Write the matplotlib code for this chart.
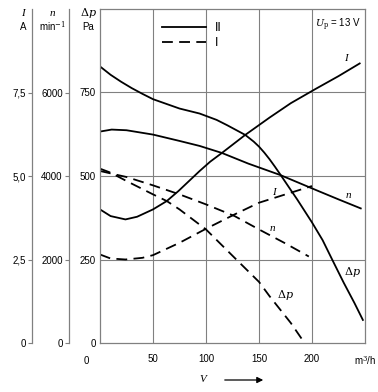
import matplotlib
matplotlib.use("Agg")
import matplotlib.pyplot as plt
from matplotlib.lines import Line2D
import numpy as np

plt.rcParams['font.family'] = ['Liberation Sans', 'DejaVu Sans']
plt.rcParams['font.size'] = 7
plt.rcParams['mathtext.fontset'] = 'dejavuserif'

# curve data (V in m3/h)
# Variante II (solid)
v_dp2 = [0, 10, 20, 30, 40, 50, 75, 94, 110, 120, 137, 145, 150, 155, 160, 165, 170, 180, 186, 200, 210, 219, 230, 240, 248]
dp2 = [828, 803, 782, 763, 746, 730, 702, 687, 668, 652, 623, 603, 588, 570, 550, 528, 505, 458, 430, 361, 308, 250, 180, 120, 69]  # Pa
v_n2 = [0, 11, 25, 50, 75, 94, 115, 140, 170, 206, 225, 246]
n2 = [5064, 5112, 5096, 4992, 4840, 4720, 4552, 4296, 4024, 3640, 3440, 3224]  # min^-1
v_i2 = [0, 10, 24, 35, 50, 63, 74, 85, 94, 104, 115, 137, 160, 180, 203, 225, 245]
i2 = [4.00, 3.80, 3.70, 3.78, 4.00, 4.25, 4.55, 4.88, 5.15, 5.43, 5.69, 6.23, 6.75, 7.18, 7.60, 7.99, 8.37]  # A

# Variante I (dashed)
v_dp1 = [0, 10, 25, 50, 63, 75, 100, 127, 150, 160, 170, 180, 193]
dp1 = [522, 510, 485, 445, 425, 400, 340, 255, 183, 140, 100, 60, 0]
v_n1 = [0, 25, 50, 75, 100, 127, 150, 175, 197]
n1 = [4120, 3976, 3776, 3560, 3320, 3040, 2720, 2384, 2072]
v_i1 = [0, 10, 24, 40, 50, 75, 100, 127, 150, 175, 200]
i1 = [2.65, 2.53, 2.50, 2.55, 2.63, 3.00, 3.42, 3.85, 4.20, 4.45, 4.70]

x_ticks = [50, 100, 150, 200, 250]
x_labels = ['50', '100', '150', '200', 'm$^3$/h']
dp_ticks = [0, 250, 500, 750]
n_ticks = [0, 2000, 4000, 6000]
i_ticks = [0, 2.5, 5.0, 7.5]
i_labels = ['0', '2,5', '5,0', '7,5']

W, H = 378, 392
fig = plt.figure(figsize=(W / 100, H / 100), dpi=100)
L, R, T, B = 100, 365, 9, 343
ax = fig.add_axes([L / W, (H - B) / H, (R - L) / W, (B - T) / H])

grey = '#808080'
ax.set_xlim(0, 250)
ax.set_ylim(0, 1000)
ax.set_xticks(x_ticks)
ax.set_xticklabels(x_labels)
ax.set_yticks(dp_ticks)
ax.tick_params(axis='x', length=0, pad=8)
ax.tick_params(axis='y', length=0, pad=3)
for s in ax.spines.values():
    s.set_color(grey)
    s.set_linewidth(0.9)
for xv in x_ticks[:-1]:
    ax.axvline(xv, color=grey, lw=0.8, zorder=0)
for yv in dp_ticks[1:]:
    ax.axhline(yv, color=grey, lw=0.8, zorder=0)
ax.text(-13, -0.04, '0', transform=ax.get_xaxis_transform(), ha='center', va='top')

# the other two scales
n_fac = 8.0      # n = 8 * dp
i_fac = 0.01     # I = dp / 100
ax_n = ax.twinx()
ax_i = ax.twinx()
for a, pos, top, ticks, labels in [(ax_n, 69, 1000 * n_fac, n_ticks, [str(t) for t in n_ticks]),
                                   (ax_i, 32, 1000 * i_fac, i_ticks, i_labels)]:
    a.set_ylim(0, top)
    a.yaxis.set_ticks_position('left')
    a.spines['left'].set_position(('axes', (pos - L) / (R - L)))
    a.spines['left'].set_color(grey)
    a.spines['left'].set_linewidth(0.9)
    for k in ['right', 'top', 'bottom']:
        a.spines[k].set_visible(False)
    a.set_yticks(ticks)
    a.set_yticklabels(labels)
    a.tick_params(axis='y', direction='out', length=3, width=0.8, color=grey, pad=1.5)

# curves, converted into the Delta-p scale
lw = 1.3
dash = (6, 3.5)
ax.plot(v_dp2, dp2, color='black', lw=lw)
ax.plot(v_n2, np.array(n2) / n_fac, color='black', lw=lw)
ax.plot(v_i2, np.array(i2) / i_fac, color='black', lw=lw)
ax.plot(v_dp1, dp1, color='black', lw=lw, dashes=dash)
ax.plot(v_n1, np.array(n1) / n_fac, color='black', lw=lw, dashes=dash)
ax.plot(v_i1, np.array(i1) / i_fac, color='black', lw=lw, dashes=dash)

serif = dict(family=['Liberation Serif', 'DejaVu Serif'], style='italic', fontsize=8)
ax.text(232, 852, 'I', **serif, ha='center', va='center')
ax.text(234, 442, 'n', **serif, ha='center', va='center')
ax.text(238, 212, r'$\Delta p$', fontsize=8, ha='center', va='center')
ax.text(164, 452, 'I', **serif, ha='center', va='center')
ax.text(163, 342, 'n', **serif, ha='center', va='center')
ax.text(175, 145, r'$\Delta p$', fontsize=8, ha='center', va='center')
ax.text(0.985, 0.975, r'$U_{\rm p}$ = 13 V', transform=ax.transAxes, ha='right', va='top', fontsize=7)

handles = [Line2D([], [], color='black', lw=lw), Line2D([], [], color='black', lw=lw, dashes=dash)]
ax.legend(handles, ['II', 'I'], loc='upper left', bbox_to_anchor=((162 - L) / (R - L), (B - 22) / (B - T)),
          frameon=False, handlelength=3.5, handletextpad=0.7, labelspacing=0.25,
          borderpad=0, borderaxespad=0, fontsize=9)

# axis headers
for xp, top_t, bot_t in [(23, 'I', 'A'), (52, 'n', 'min$^{-1}$'), (88, r'$\Delta p$', 'Pa')]:
    if top_t.startswith('$'):
        fig.text(xp / W, 1 - 13 / H, top_t, ha='center', va='center', fontsize=8)
    else:
        fig.text(xp / W, 1 - 13 / H, top_t, ha='center', va='center', **serif)
    fig.text(xp / W, 1 - 27 / H, bot_t, ha='center', va='center', fontsize=7)

# flow label with arrow
fig.text(203 / W, 1 - 380 / H, 'V', ha='center', va='center', **serif)
ax.annotate('', xy=(266 / W, 1 - 380 / H), xytext=(222 / W, 1 - 380 / H), xycoords='figure fraction',
            arrowprops=dict(arrowstyle='-|>', color='black', lw=0.9, mutation_scale=9))

fig.savefig('out.png', dpi=100)
